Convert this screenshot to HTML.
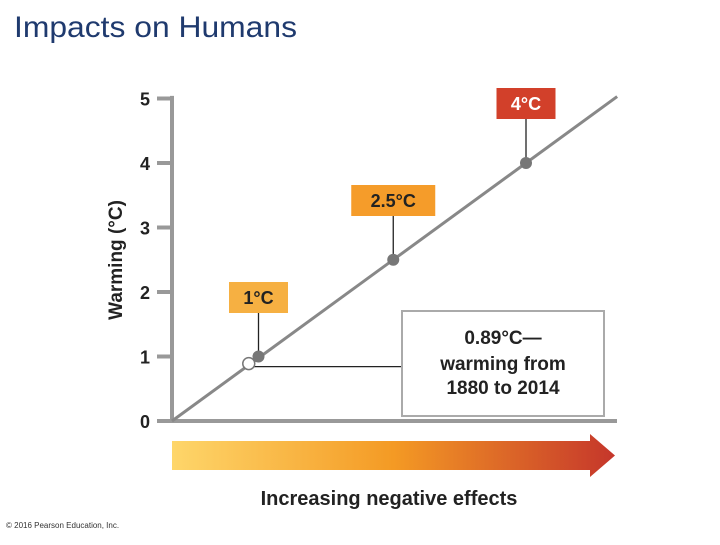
<!DOCTYPE html>
<html><head><meta charset="utf-8"><style>
body{margin:0;width:720px;height:540px;background:#fff;overflow:hidden;font-family:"Liberation Sans",sans-serif}
</style></head><body>
<svg width="720" height="540" xmlns="http://www.w3.org/2000/svg">
<defs><linearGradient id="g" x1="0" x2="1" y1="0" y2="0">
<stop offset="0" stop-color="#fed66a"/><stop offset="0.5" stop-color="#f49a24"/><stop offset="1" stop-color="#c5362b"/></linearGradient></defs>
<text x="14" y="37" font-size="30" fill="#1f3a6e" textLength="283" lengthAdjust="spacingAndGlyphs">Impacts on Humans</text>
<g id="axes"></g><g id="marks"></g>
<text transform="translate(122,260) rotate(-90)" text-anchor="middle" font-size="19" font-weight="bold" fill="#222">Warming (°C)</text>
<polygon points="172,441 590,441 590,434 615,455.5 590,477 590,470 172,470" fill="url(#g)"/>
<text x="389" y="505" text-anchor="middle" font-size="20" font-weight="bold" fill="#222">Increasing negative effects</text>
<text x="6" y="528" font-size="8" fill="#333">© 2016 Pearson Education, Inc.</text>
</svg>
<script>
const yTicks=[0,1,2,3,4,5];
const markerValues=[1,2.5,4];
const markerLabels=["1°C","2.5°C","4°C"];
const markerColors=["#f6b042","#f59c2a","#d2402a"];
const observedValue=[0.89];
const NS="http://www.w3.org/2000/svg";
const X0=172,Y0=421,PX=88.5,PY=64.5;
const sx=v=>X0+v*PX, sy=v=>Y0-v*PY;
function mk(t,a,p){const e=document.createElementNS(NS,t);for(const k in a)e.setAttribute(k,a[k]);p.appendChild(e);return e;}
const ax=document.getElementById('axes'),mg=document.getElementById('marks');
let e=mk('line',{x1:X0,y1:sy(5.04),x2:X0,y2:Y0,stroke:'#999','stroke-width':4},ax);

e=mk('line',{x1:X0-2,y1:Y0,x2:617,y2:Y0,stroke:'#999','stroke-width':4},ax);

yTicks.forEach(v=>{
 let t=mk('line',{x1:157,y1:sy(v),x2:X0,y2:sy(v),stroke:'#999','stroke-width':4},ax);
 
 let l=mk('text',{x:145,y:sy(v)+7,'text-anchor':'middle','font-size':18,'font-weight':'bold',fill:'#222'},ax);
 l.textContent=v;
 
});
e=mk('line',{x1:sx(0),y1:sy(0),x2:sx(5.03),y2:sy(5.03),stroke:'#888','stroke-width':3},mg);

const ov=observedValue[0];
e=mk('line',{x1:sx(ov),y1:sy(ov)+3,x2:402,y2:sy(ov)+3,stroke:'#222','stroke-width':1.3},mg);

e=mk('rect',{x:402,y:311,width:202,height:105,fill:'#fff',stroke:'#aaa','stroke-width':2},mg);

[["0.89°C—",344],["warming from",370],["1880 to 2014",394]].forEach(([s,y])=>{
 let t=mk('text',{x:503,y:y,'text-anchor':'middle','font-size':19,'font-weight':'bold',fill:'#222'},mg);t.textContent=s;
 
});
const boxTops=[282,185,88],boxW=[59,84,59];
markerValues.forEach((v,i)=>{
 const x=sx(v)-(i==0?2:0),y=sy(v);
 let c=mk('line',{x1:x,y1:boxTops[i]+30,x2:x,y2:y,stroke:'#222','stroke-width':1.3},mg);
 
 let r=mk('rect',{x:x-boxW[i]/2,y:boxTops[i],width:boxW[i],height:31,fill:markerColors[i]},mg);
 
 let t=mk('text',{x:x,y:boxTops[i]+22,'text-anchor':'middle','font-size':18,'font-weight':'bold',fill:i==2?'#fff':'#222'},mg);
 t.textContent=markerLabels[i];
 
 let p=mk('circle',{cx:x,cy:y,r:6,fill:'#777'},mg);
 
});
e=mk('circle',{cx:sx(ov)-2,cy:sy(ov),r:6,fill:'#fff',stroke:'#777','stroke-width':1.5},mg);

</script>
</body></html>
